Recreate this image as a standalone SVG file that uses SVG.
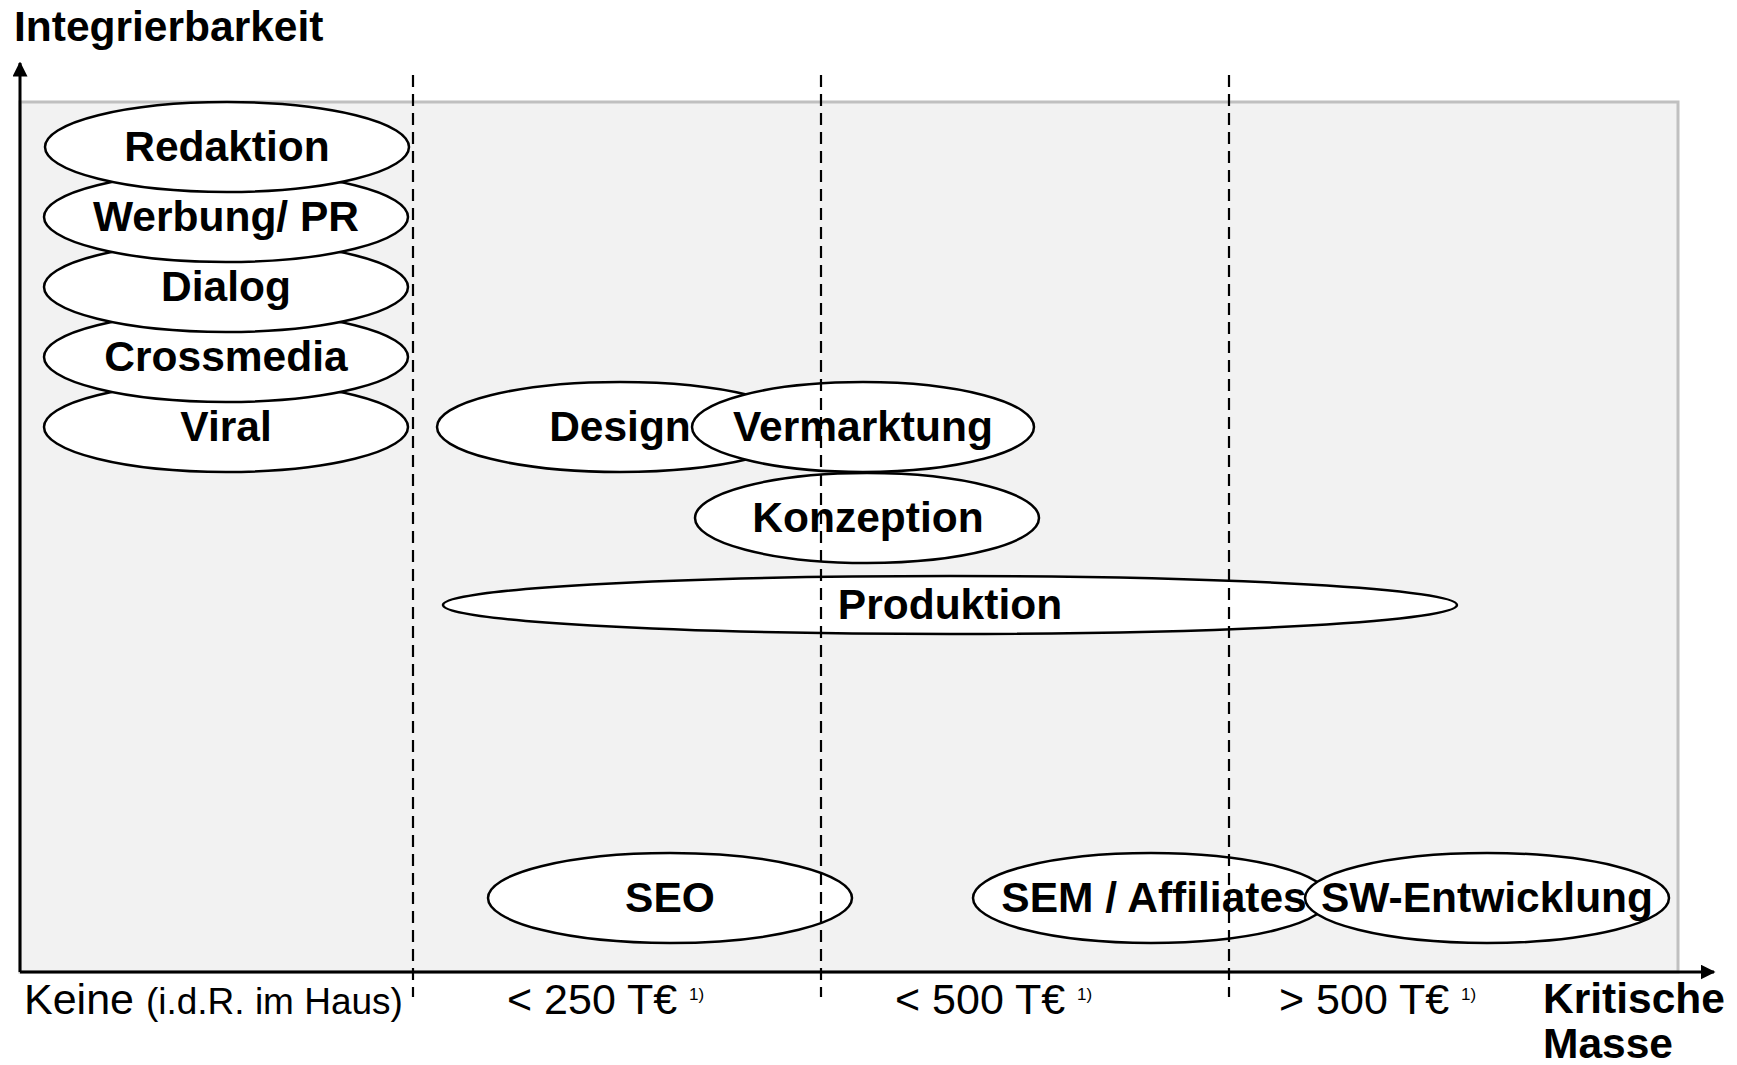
<svg xmlns="http://www.w3.org/2000/svg" width="1737" height="1065" viewBox="0 0 1737 1065">
<defs>
<style>
.bg{fill:#f2f2f2;stroke:#c0c0c0;stroke-width:3}
.el{fill:#ffffff;stroke:#000000;stroke-width:2.5}
.lbl{font-family:"Liberation Sans",Arial,sans-serif;font-weight:bold;font-size:42.5px;fill:#000;text-anchor:middle}
.axis{stroke:#000;stroke-width:3;fill:none}
.dash{stroke:#000;stroke-width:2.2;stroke-dasharray:12 7;fill:none}
.tick{font-family:"Liberation Sans",Arial,sans-serif;font-size:43px;fill:#000}
.sup{font-size:17px}
.title{font-family:"Liberation Sans",Arial,sans-serif;font-weight:bold;font-size:42.5px;fill:#000}
</style>
<marker id="arr" viewBox="0 0 10 10" refX="9" refY="5" markerWidth="5" markerHeight="5" orient="auto" markerUnits="strokeWidth">
<path d="M0,0 L10,5 L0,10 z" fill="#000"/>
</marker>
</defs>
<rect width="1737" height="1065" fill="#ffffff"/>
<rect class="bg" x="20" y="102" width="1658" height="870"/>

<g id="node-viral"><ellipse class="el" cx="226" cy="427" rx="182" ry="45"/><text class="lbl" x="226" y="441">Viral</text></g>
<g id="node-crossmedia"><ellipse class="el" cx="226" cy="357" rx="182" ry="45"/><text class="lbl" x="226" y="371">Crossmedia</text></g>
<g id="node-dialog"><ellipse class="el" cx="226" cy="287" rx="182" ry="45"/><text class="lbl" x="226" y="301">Dialog</text></g>
<g id="node-werbung"><ellipse class="el" cx="226" cy="217" rx="182" ry="45"/><text class="lbl" x="226" y="231">Werbung/ PR</text></g>
<g id="node-redaktion"><ellipse class="el" cx="227" cy="147" rx="182" ry="45"/><text class="lbl" x="227" y="161">Redaktion</text></g>

<g id="node-design"><ellipse class="el" cx="620" cy="427" rx="183" ry="45"/><text class="lbl" x="620" y="441">Design</text></g>
<g id="node-vermarktung"><ellipse class="el" cx="863" cy="427" rx="171" ry="45"/><text class="lbl" x="863" y="441">Vermarktung</text></g>
<g id="node-konzeption"><ellipse class="el" cx="867" cy="518" rx="172" ry="45"/><text class="lbl" x="868" y="532">Konzeption</text></g>
<g id="node-produktion"><ellipse class="el" cx="950" cy="605" rx="507" ry="29"/><text class="lbl" x="950" y="619">Produktion</text></g>
<g id="node-seo"><ellipse class="el" cx="670" cy="898" rx="182" ry="45"/><text class="lbl" x="670" y="912">SEO</text></g>
<g id="node-sem"><ellipse class="el" cx="1151" cy="898" rx="178" ry="45"/><text class="lbl" x="1154" y="912">SEM / Affiliates</text></g>
<g id="node-sw"><ellipse class="el" cx="1487" cy="898" rx="182" ry="45"/><text class="lbl" x="1487" y="912">SW-Entwicklung</text></g>

<g id="connectors">
<line class="dash" x1="413" y1="75" x2="413" y2="997"/>
<line class="dash" x1="821" y1="75" x2="821" y2="997"/>
<line class="dash" x1="1229" y1="75" x2="1229" y2="997"/>
<line class="axis" x1="20" y1="972" x2="20" y2="63" marker-end="url(#arr)"/>
<line class="axis" x1="20" y1="972" x2="1714" y2="972" marker-end="url(#arr)"/>
</g>

<g id="labels">
<text class="title" x="14" y="41">Integrierbarkeit</text>
<text class="tick" x="24" y="1014">Keine <tspan font-size="37px">(i.d.R. im Haus)</tspan></text>
<text class="tick" x="507" y="1014">&lt; 250 T€ <tspan class="sup" dy="-14">1)</tspan></text>
<text class="tick" x="895" y="1014">&lt; 500 T€ <tspan class="sup" dy="-14">1)</tspan></text>
<text class="tick" x="1279" y="1014">&gt; 500 T€ <tspan class="sup" dy="-14">1)</tspan></text>
<text class="title" x="1543" y="1013">Kritische</text>
<text class="title" x="1543" y="1058">Masse</text>
</g>
</svg>
